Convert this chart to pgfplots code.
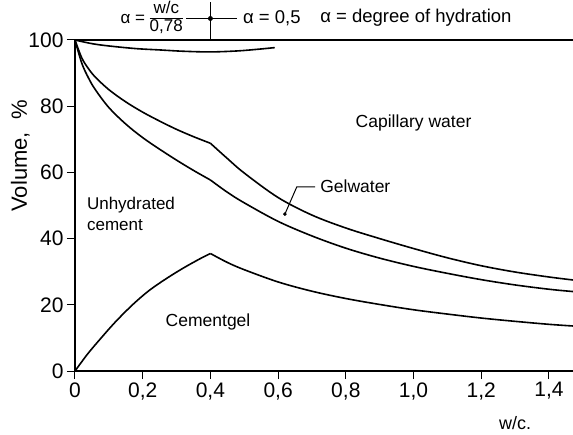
\documentclass[border=0pt]{standalone}
\usepackage{fontspec}
\setmainfont{Liberation Sans}
\usepackage{pgfplots}
\pgfplotsset{compat=1.18}
\pgfplotsset{curve/.style={black, line width=1.6pt, mark=none, smooth, tension=0.55}}
\begin{document}
\begin{tikzpicture}
\begin{axis}[
  width=498pt, height=331pt, scale only axis,
  xmin=0, xmax=1.471, ymin=0, ymax=100,
  axis lines=left,
  axis line style={-, line width=1.8pt},
  clip=false,
  xtick={0,0.2,0.4,0.6,0.8,1.0,1.2,1.4},
  xticklabels={0,{0,2},{0,4},{0,6},{0,8},{1,0},{1,2},{1,4}},
  ytick={0,20,40,60,80,100},
  tick align=outside,
  major tick length=8pt,
  tick style={line width=1pt, black},
  ticklabel style={font=\fontsize{21}{21}\selectfont},
  /pgf/number format/assume math mode=true,
  ylabel={Volume,\ \ \%},
  ylabel style={font=\fontsize{22}{22}\selectfont, at={(axis description cs:-0.11,0.65)}, anchor=center, rotate=0},
]
% top line at 100
\addplot[black, line width=1.2pt, mark=none] coordinates {(0,100) (1.471,100)};
% top curve
\addplot[curve] coordinates {(0,100) (0.05,98.9) (0.1,98.2) (0.18,97.4) (0.25,97.0) (0.32,96.6) (0.4,96.4) (0.48,96.7) (0.54,97.2) (0.59,97.7)};
% upper curve (gelwater / capillary water)
\addplot[curve] coordinates {(0,100) (0.02,94.6) (0.04,91.3) (0.06,88.8) (0.1,85.0) (0.15,81.3) (0.2,78.2) (0.25,75.5) (0.3,73.0) (0.35,70.8) (0.4,68.8)};
\addplot[curve] coordinates {(0.4,68.8) (0.45,64.2) (0.5,59.8) (0.6,52.4) (0.7,47.1) (0.8,43.2) (0.9,40.0) (1.0,37.0) (1.1,34.2) (1.2,31.8) (1.3,29.9) (1.4,28.4) (1.471,27.5)};
% middle curve (unhydrated cement / gelwater)
\addplot[curve] coordinates {(0,100) (0.02,93.0) (0.04,88.5) (0.06,85.0) (0.1,79.6) (0.15,74.6) (0.2,70.5) (0.25,67.0) (0.3,63.7) (0.35,60.6) (0.4,57.7)};
\addplot[curve] coordinates {(0.4,57.7) (0.45,54.0) (0.5,50.8) (0.6,45.2) (0.7,40.8) (0.8,37.1) (0.9,34.1) (1.0,31.6) (1.1,29.5) (1.2,27.6) (1.3,26.0) (1.4,24.7) (1.471,24.0)};
% cement gel curve
\addplot[curve] coordinates {(0,0) (0.02,2.8) (0.04,5.5) (0.074,9.6) (0.12,14.9) (0.172,20.2) (0.22,24.4) (0.271,28.0) (0.32,31.1) (0.369,33.9) (0.4,35.5)};
\addplot[curve] coordinates {(0.4,35.5) (0.45,32.8) (0.5,30.6) (0.6,26.9) (0.7,24.1) (0.8,21.9) (0.9,20.1) (1.0,18.5) (1.1,17.2) (1.2,16.0) (1.3,15.0) (1.4,14.1) (1.471,13.6)};
% top marker
\addplot[black, line width=1pt, mark=none] coordinates {(0.4,100) (0.4,111.5)};
\addplot[black, line width=1pt, mark=none] coordinates {(0.328,106.5) (0.479,106.5)};
\addplot[black, only marks, mark=*, mark size=2.2pt] coordinates {(0.4,106.5)};
% gelwater leader
\addplot[black, line width=1pt, mark=none] coordinates {(0.709,55.6) (0.655,55.6) (0.62,47.4)};
\addplot[black, only marks, mark=*, mark size=1.6pt] coordinates {(0.62,47.4)};
% labels
\node[font=\fontsize{17.5}{20}\selectfont] at (axis cs:1.0,74.9) {Capillary water};
\node[font=\fontsize{17.5}{20}\selectfont, anchor=west, inner sep=0pt] at (axis cs:0.724,55.9) {Gelwater};
\node[font=\fontsize{17}{21}\selectfont, anchor=west, align=left, inner sep=0pt] at (axis cs:0.035,47.6) {Unhydrated\\cement};
\node[font=\fontsize{17.5}{20}\selectfont] at (axis cs:0.393,14.8) {Cementgel};
\node[font=\fontsize{18}{20}\selectfont] at (axis cs:1.30,-15.7) {w/c.};
\node[font=\fontsize{17}{17}\selectfont, anchor=east, inner sep=0pt] at (axis cs:0.319,106.4) {α = \renewcommand\arraystretch{0.95}\begin{tabular}[c]{@{}c@{}}w/c\\[-1pt]\hline\rule{0pt}{13pt}0,78\end{tabular}};
\node[font=\fontsize{18.5}{20}\selectfont, anchor=west, inner sep=0pt] at (axis cs:0.496,106.6) {α = 0,5};
\node[font=\fontsize{18.5}{20}\selectfont, anchor=west, inner sep=0pt] at (axis cs:0.724,106.6) {α = degree of hydration};
\end{axis}
\pgfresetboundingbox
\path[use as bounding box] ([xshift=-75pt,yshift=-63pt]current axis.south west) rectangle ([yshift=40pt]current axis.north east);
\end{tikzpicture}
\end{document}
